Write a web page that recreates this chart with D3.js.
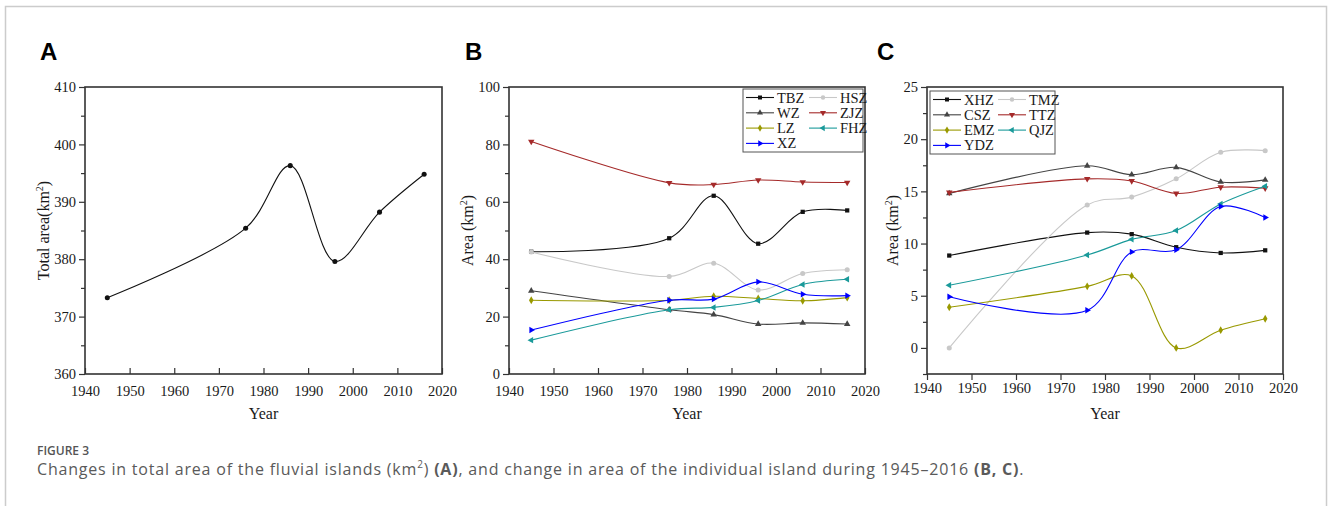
<!DOCTYPE html>
<html>
<head>
<meta charset="utf-8">
<script src="https://cdn.jsdelivr.net/npm/d3@7"></script>
<style>
  body { margin: 0; background: #fff; }
  svg { display: block; }
</style>
</head>
<body>
<svg id="fig" width="1328" height="506"></svg>
<script>
// Years sampled
const years = [1945, 1976, 1986, 1996, 2006, 2016];

// Panel A: total area (km2)
const totalArea = [373.3, 385.4, 396.3, 379.6, 388.2, 394.8];

// Panel B series
const bNames = ["TBZ", "HSZ", "WZ", "ZJZ", "LZ", "FHZ", "XZ"];
const tbz = [42.6, 47.3, 62.1, 45.4, 56.5, 57.0];
const hsz = [42.5, 34.0, 38.6, 29.3, 35.0, 36.3];
const wz  = [29.0, 22.4, 20.7, 17.4, 17.8, 17.4];
const zjz = [81.0, 66.6, 66.0, 67.6, 66.9, 66.7];
const lz  = [25.7, 25.7, 27.1, 26.3, 25.5, 26.6];
const fhz = [11.8, 22.4, 23.2, 25.6, 31.2, 33.0];
const xz  = [15.3, 25.7, 26.1, 32.1, 27.8, 27.3];

// Panel C series
const cNames = ["XHZ", "TMZ", "CSZ", "TTZ", "EMZ", "QJZ", "YDZ"];
const xhz = [8.85, 11.05, 10.9, 9.65, 9.1, 9.35];
const tmz = [0.0, 13.7, 14.45, 16.2, 18.75, 18.9];
const csz = [14.8, 17.45, 16.6, 17.3, 15.9, 16.1];
const ttz = [14.9, 16.2, 16.0, 14.8, 15.4, 15.3];
const emz = [3.9, 5.9, 6.9, 0.0, 1.7, 2.8];
const qjz = [6.0, 8.9, 10.4, 11.25, 13.8, 15.5];
const ydz = [4.9, 3.6, 9.2, 9.4, 13.55, 12.5];

const xTicks = [1940, 1950, 1960, 1970, 1980, 1990, 2000, 2010, 2020];

// style per series slot (same order in B and C)
const styles = [
  { color: "#111111", sym: d3.symbolSquare, rot: 0 },
  { color: "#c8c8c8", sym: d3.symbolCircle, rot: 0 },
  { color: "#444444", sym: d3.symbolTriangle, rot: 0 },
  { color: "#a52a2a", sym: d3.symbolTriangle, rot: 180 },
  { color: "#999900", sym: d3.symbolDiamond, rot: 0 },
  { color: "#1a9a9a", sym: d3.symbolTriangle, rot: -90 },
  { color: "#0000ff", sym: d3.symbolTriangle, rot: 90 }
];

const svg = d3.select("#fig");
const serif = "'Liberation Serif', 'Times New Roman', serif";

// outer frame
svg.append("rect")
  .attr("x", 5.5).attr("y", 6.5).attr("width", 1321).attr("height", 520)
  .attr("fill", "none").attr("stroke", "#cccccc").attr("stroke-width", 1.5);

function panel(opt) {
  const { left, right, top, bottom } = opt;
  const g = svg.append("g");
  const x = d3.scaleLinear().domain([1940, 2020]).range([left, right]);
  const y = d3.scaleLinear().domain(opt.yDomain).range([bottom, top]);

  // panel letter
  svg.append("text")
    .attr("x", opt.letterX).attr("y", 60)
    .attr("font-family", "'Liberation Sans', Arial, sans-serif")
    .attr("font-weight", "bold").attr("font-size", 24)
    .text(opt.letter);

  // minor y ticks
  g.append("g")
    .attr("transform", `translate(${left},0)`)
    .call(d3.axisLeft(y).tickValues(opt.yMinor).tickSize(4).tickFormat(""))
    .call(a => a.select(".domain").remove())
    .selectAll("line").attr("stroke", "#333").attr("stroke-width", 1.2);

  // major y ticks
  const ya = g.append("g")
    .attr("transform", `translate(${left},0)`)
    .call(d3.axisLeft(y).tickValues(opt.yTicks).tickSize(6).tickPadding(3));
  ya.select(".domain").remove();
  ya.selectAll("line").attr("stroke", "#333").attr("stroke-width", 1.2);
  ya.selectAll("text").attr("font-family", serif).attr("font-size", 14.5).attr("fill", "#1a1a1a");

  // x ticks
  const xa = g.append("g")
    .attr("transform", `translate(0,${bottom})`)
    .call(d3.axisBottom(x).tickValues(xTicks).tickSize(opt.xInward ? -6 : 6)
      .tickPadding(opt.xInward ? 12 : 3).tickFormat(d3.format("d")));
  xa.select(".domain").remove();
  xa.selectAll("line").attr("stroke", "#333").attr("stroke-width", 1.2);
  xa.selectAll("text").attr("font-family", serif).attr("font-size", 14.5).attr("fill", "#1a1a1a");

  // frame
  g.append("rect")
    .attr("x", left).attr("y", top)
    .attr("width", right - left).attr("height", bottom - top)
    .attr("fill", "none").attr("stroke", "#333").attr("stroke-width", 1.6);

  // axis titles
  g.append("text")
    .attr("x", (left + right) / 2).attr("y", 419)
    .attr("text-anchor", "middle")
    .attr("font-family", serif).attr("font-size", 16).attr("fill", "#1a1a1a")
    .text("Year");

  const yt = g.append("text")
    .attr("transform", `translate(${opt.yTitleX},${(top + bottom) / 2}) rotate(-90)`)
    .attr("text-anchor", "middle")
    .attr("font-family", serif).attr("font-size", 16).attr("fill", "#1a1a1a");
  yt.append("tspan").text(opt.yTitle);
  yt.append("tspan").attr("font-size", 10).attr("dy", -6).text("2");
  yt.append("tspan").attr("dy", 6).text(")");

  const line = d3.line()
    .x((d, i) => x(years[i]))
    .y(d => y(d))
    .curve(d3.curveCatmullRom.alpha(0.5));

  opt.series.forEach((vals, k) => {
    const st = opt.styles[k];
    g.append("path")
      .attr("d", line(vals))
      .attr("fill", "none").attr("stroke", st.color).attr("stroke-width", 1.1);
    g.selectAll(null)
      .data(vals)
      .join("path")
      .attr("transform", (d, i) => `translate(${x(years[i])},${y(d)}) rotate(${st.rot})`)
      .attr("d", d3.symbol().type(st.sym).size(st.sym === d3.symbolCircle ? 20 : 18))
      .attr("fill", st.color);
  });

  if (opt.legend) {
    const L = opt.legend;
    g.append("rect")
      .attr("x", L.x).attr("y", L.y).attr("width", L.w).attr("height", L.h)
      .attr("fill", "#fff").attr("stroke", "#555").attr("stroke-width", 1);
    opt.names.forEach((nm, k) => {
      const col = k % 2, row = Math.floor(k / 2);
      const st = opt.styles[k];
      const lx = L.x + 3 + col * L.colW;
      const ly = L.y + 8.5 + row * 15.3;
      g.append("line")
        .attr("x1", lx).attr("x2", lx + 28).attr("y1", ly).attr("y2", ly)
        .attr("stroke", st.color).attr("stroke-width", 1.1);
      g.append("path")
        .attr("transform", `translate(${lx + 14},${ly}) rotate(${st.rot})`)
        .attr("d", d3.symbol().type(st.sym).size(16))
        .attr("fill", st.color);
      g.append("text")
        .attr("x", lx + 31).attr("y", ly + 5)
        .attr("font-family", serif).attr("font-size", 14.5).attr("fill", "#1a1a1a")
        .text(nm);
    });
  }
}

// Panel A
panel({
  letter: "A", letterX: 40,
  left: 85, right: 442, top: 87, bottom: 374,
  yDomain: [360, 410],
  yTicks: [360, 370, 380, 390, 400, 410],
  yMinor: [365, 375, 385, 395, 405],
  xInward: true,
  yTitleX: 49, yTitle: "Total area(km",
  series: [totalArea],
  styles: [{ color: "#111111", sym: d3.symbolCircle, rot: 0 }]
});

// Panel B: legend order is TBZ HSZ / WZ ZJZ / LZ FHZ / XZ
panel({
  letter: "B", letterX: 465,
  left: 509, right: 865, top: 87, bottom: 374,
  yDomain: [0, 100],
  yTicks: [0, 20, 40, 60, 80, 100],
  yMinor: [10, 30, 50, 70, 90],
  xInward: true,
  yTitleX: 473, yTitle: "Area (km",
  series: [tbz, hsz, wz, zjz, lz, fhz, xz],
  styles: styles,
  names: bNames,
  legend: { x: 743, y: 89, w: 120, h: 63, colW: 63 }
});

// Panel C
panel({
  letter: "C", letterX: 877,
  left: 927, right: 1283, top: 87, bottom: 374,
  yDomain: [-2.5, 25],
  yTicks: [0, 5, 10, 15, 20, 25],
  yMinor: [-2.5, 2.5, 7.5, 12.5, 17.5, 22.5],
  xInward: false,
  yTitleX: 898, yTitle: "Area (km",
  series: [xhz, tmz, csz, ttz, emz, qjz, ydz],
  styles: styles,
  names: cNames,
  legend: { x: 930, y: 91, w: 125, h: 63, colW: 65 }
});

// caption
const cap = "'Open Sans', 'Noto Sans', sans-serif";
svg.append("text")
  .attr("x", 37).attr("y", 455)
  .attr("font-family", cap).attr("font-size", 12).attr("font-weight", 600)
  .attr("fill", "#555").text("FIGURE 3");

const c2 = svg.append("text")
  .attr("x", 37).attr("y", 475)
  .attr("font-family", cap).attr("font-size", 16).attr("letter-spacing", 0.8)
  .attr("fill", "#5a5a5a");
c2.append("tspan").text("Changes in total area of the fluvial islands (km");
c2.append("tspan").attr("font-size", 10).attr("dy", -7).text("2");
c2.append("tspan").attr("dy", 7).text(") ");
c2.append("tspan").attr("font-weight", "bold").text("(A)");
c2.append("tspan").text(", and change in area of the individual island during 1945\u20132016 ");
c2.append("tspan").attr("font-weight", "bold").text("(B, C)");
c2.append("tspan").text(".");
</script>
</body>
</html>
